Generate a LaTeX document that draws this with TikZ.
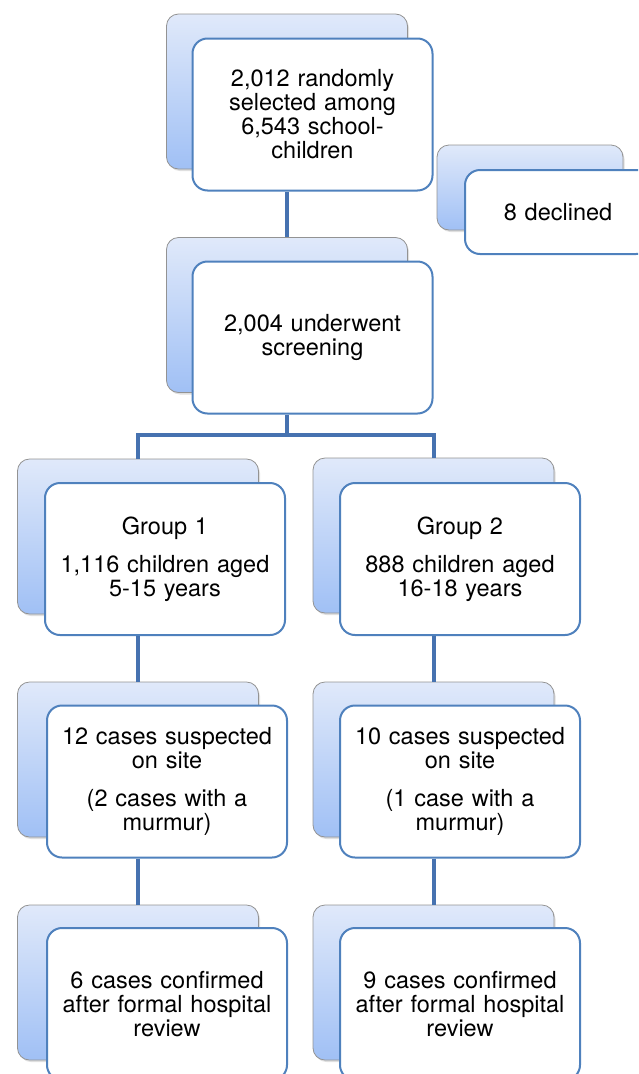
\documentclass[tikz,border=0pt]{standalone}
\usepackage{fontspec}
\setmainfont{TeX Gyre Heros}
\usetikzlibrary{shadows}
\definecolor{boxblue}{RGB}{79,129,189}
\definecolor{linkblue}{RGB}{70,114,176}
\definecolor{cardtop}{RGB}{224,233,250}
\definecolor{cardbot}{RGB}{160,192,245}
\begin{document}
\begin{tikzpicture}[x=1pt,y=-1pt,
    card/.style={draw=gray!85,line width=.8pt,rounded corners=12pt,top color=cardtop,bottom color=cardbot,
      minimum width=241pt,minimum height=155pt,
      drop shadow={shadow xshift=1.5pt,shadow yshift=-2pt,opacity=.25}},
    info/.style={draw=boxblue,line width=2pt,rounded corners=15pt,fill=white,
      minimum width=240pt,minimum height=152pt,text width=236pt,align=center,inner sep=0pt,
      font=\fontsize{23.5}{24}\selectfont},
    link/.style={draw=linkblue,line width=4pt}]
    \useasboundingbox (0,0) rectangle (638,1074);
    \clip (0,0) rectangle (638,1074);
    \node[card] (c1) at (287,91.5) {};
    \node[info] (t1) at (312.5,114.5) {2,012 randomly\\selected among\\6,543 school-\\children};
    \node[card,minimum width=186pt,minimum height=85pt] (cd) at (530,187.5) {};
    \node[info,minimum width=186pt,minimum height=84pt,text width=170pt] (td) at (558,212) {8 declined};
    \node[card] (c2) at (287,315) {};
    \node[info] (t2) at (312.5,337.5) {2,004 underwent\\screening};
    \node[card] (c3) at (138,536.5) {};
    \node[info] (t3) at (165,559) {Group 1\\[14pt]1,116 children aged\\5-15 years};
    \node[card] (c4) at (433.5,535.5) {};
    \node[info] (t4) at (460,559) {Group 2\\[14pt]888 children aged\\16-18 years};
    \node[card] (c5) at (138,759.5) {};
    \node[info] (t5) at (167,781.5) {12 cases suspected\\on site\\[14pt](2 cases with a\\murmur)};
    \node[card] (c6) at (433.5,759.5) {};
    \node[info] (t6) at (460,781.5) {10 cases suspected\\on site\\[14pt](1 case with a\\murmur)};
    \node[card] (c7) at (138,982.5) {};
    \node[info] (t7) at (167,1004) {6 cases confirmed\\after formal hospital\\review};
    \node[card] (c8) at (433.5,982.5) {};
    \node[info] (t8) at (460,1004) {9 cases confirmed\\after formal hospital\\review};
    \coordinate (split) at (287,435);
    \draw[link] (c2.north |- t1.south) -- (c2.north);
    \draw[link] (c2.north |- t2.south) -- (split) -| (c3.north);
    \draw[link] (split) -| (c4.north);
    \draw[link] (c3.north |- t3.south) -- (c5.north);
    \draw[link] (c4.north |- t4.south) -- (c6.north);
    \draw[link] (c5.north |- t5.south) -- (c7.north);
    \draw[link] (c6.north |- t6.south) -- (c8.north);
\end{tikzpicture}
\end{document}
